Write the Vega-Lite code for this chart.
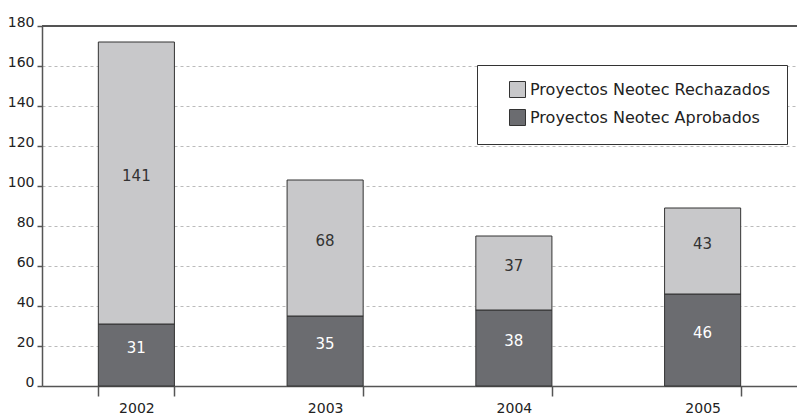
{
  "$schema": "https://vega.github.io/schema/vega-lite/v6.json",
  "width": 755,
  "height": 360,
  "autosize": {"type": "none"},
  "padding": {"left": 42, "top": 26, "right": 0, "bottom": 28},
  "background": "white",
  "config": {
    "view": {"stroke": null},
    "font": "DejaVu Sans",
    "axis": {"labelFont": "DejaVu Sans", "labelColor": "#222", "domainColor": "#555", "tickColor": "#555", "domainWidth": 1.5, "tickWidth": 1.5, "labelFontSize": 14, "title": null},
    "axisY": {"labelOverlap": false, "tickSize": 5, "labelPadding": 3, "labelBaseline": "alphabetic", "grid": true, "gridColor": "#bbb", "gridDash": [3, 3], "gridWidth": 1},
    "axisX": {"labelAngle": 0, "tickBand": "extent", "tickSize": 10, "labelPadding": 5, "grid": false}
  },
  "resolve": {"axis": {"x": "independent", "y": "independent"}},
  "data": {
    "values": [
      {"year": "2002", "category": "Proyectos Neotec Aprobados", "order": 1, "value": 31},
      {"year": "2002", "category": "Proyectos Neotec Rechazados", "order": 2, "value": 141},
      {"year": "2003", "category": "Proyectos Neotec Aprobados", "order": 1, "value": 35},
      {"year": "2003", "category": "Proyectos Neotec Rechazados", "order": 2, "value": 68},
      {"year": "2004", "category": "Proyectos Neotec Aprobados", "order": 1, "value": 38},
      {"year": "2004", "category": "Proyectos Neotec Rechazados", "order": 2, "value": 37},
      {"year": "2005", "category": "Proyectos Neotec Aprobados", "order": 1, "value": 46},
      {"year": "2005", "category": "Proyectos Neotec Rechazados", "order": 2, "value": 43}
    ]
  },
  "layer": [
    {
      "mark": {"type": "bar", "stroke": "#333", "strokeWidth": 1},
      "encoding": {
        "x": {
          "field": "year", "type": "nominal", "title": null,
          "scale": {"paddingInner": 0.597, "paddingOuter": 0.2985},
          "axis": {"labelAngle": 0}
        },
        "y": {
          "field": "value", "type": "quantitative", "title": null, "stack": "zero",
          "scale": {"domain": [0, 180], "nice": false},
          "axis": {"values": [0, 20, 40, 60, 80, 100, 120, 140, 160, 180], "labelOverlap": false}
        },
        "color": {
          "field": "category", "type": "nominal",
          "scale": {"domain": ["Proyectos Neotec Rechazados", "Proyectos Neotec Aprobados"], "range": ["#c8c8ca", "#6b6c70"]},
          "legend": {
            "title": null, "orient": "none", "legendX": 435, "legendY": 39,
            "fillColor": "white", "strokeColor": "#333", "padding": 16,
            "symbolType": "square", "symbolSize": 256, "symbolStrokeColor": "#333", "symbolStrokeWidth": 1,
            "symbolOffset": 16, "labelFontSize": 16, "labelFont": "DejaVu Sans", "labelColor": "#222",
            "rowPadding": 7, "labelOffset": 4, "labelLimit": 400
          }
        },
        "order": {"field": "order", "type": "quantitative"}
      }
    },
    {
      "transform": [
        {"stack": "value", "groupby": ["year"], "sort": [{"field": "order"}], "as": ["y0", "y1"]},
        {"fold": ["y0", "y1"], "as": ["k", "pos"]},
        {"aggregate": [{"op": "mean", "field": "pos", "as": "mid"}, {"op": "max", "field": "value", "as": "value"}], "groupby": ["year", "category"]}
      ],
      "mark": {"type": "text", "fontSize": 15, "font": "DejaVu Sans", "baseline": "middle", "dy": -7},
      "encoding": {
        "x": {"field": "year", "type": "nominal", "axis": null},
        "y": {"field": "mid", "type": "quantitative", "axis": null},
        "text": {"field": "value", "type": "quantitative"},
        "color": {
          "condition": {"test": "datum.category === 'Proyectos Neotec Aprobados'", "value": "white"},
          "value": "#333"
        }
      }
    },
    {
      "mark": {"type": "rule", "color": "#555", "strokeWidth": 1.5},
      "encoding": {"y": {"datum": 180, "axis": null}}
    }
  ]
}
